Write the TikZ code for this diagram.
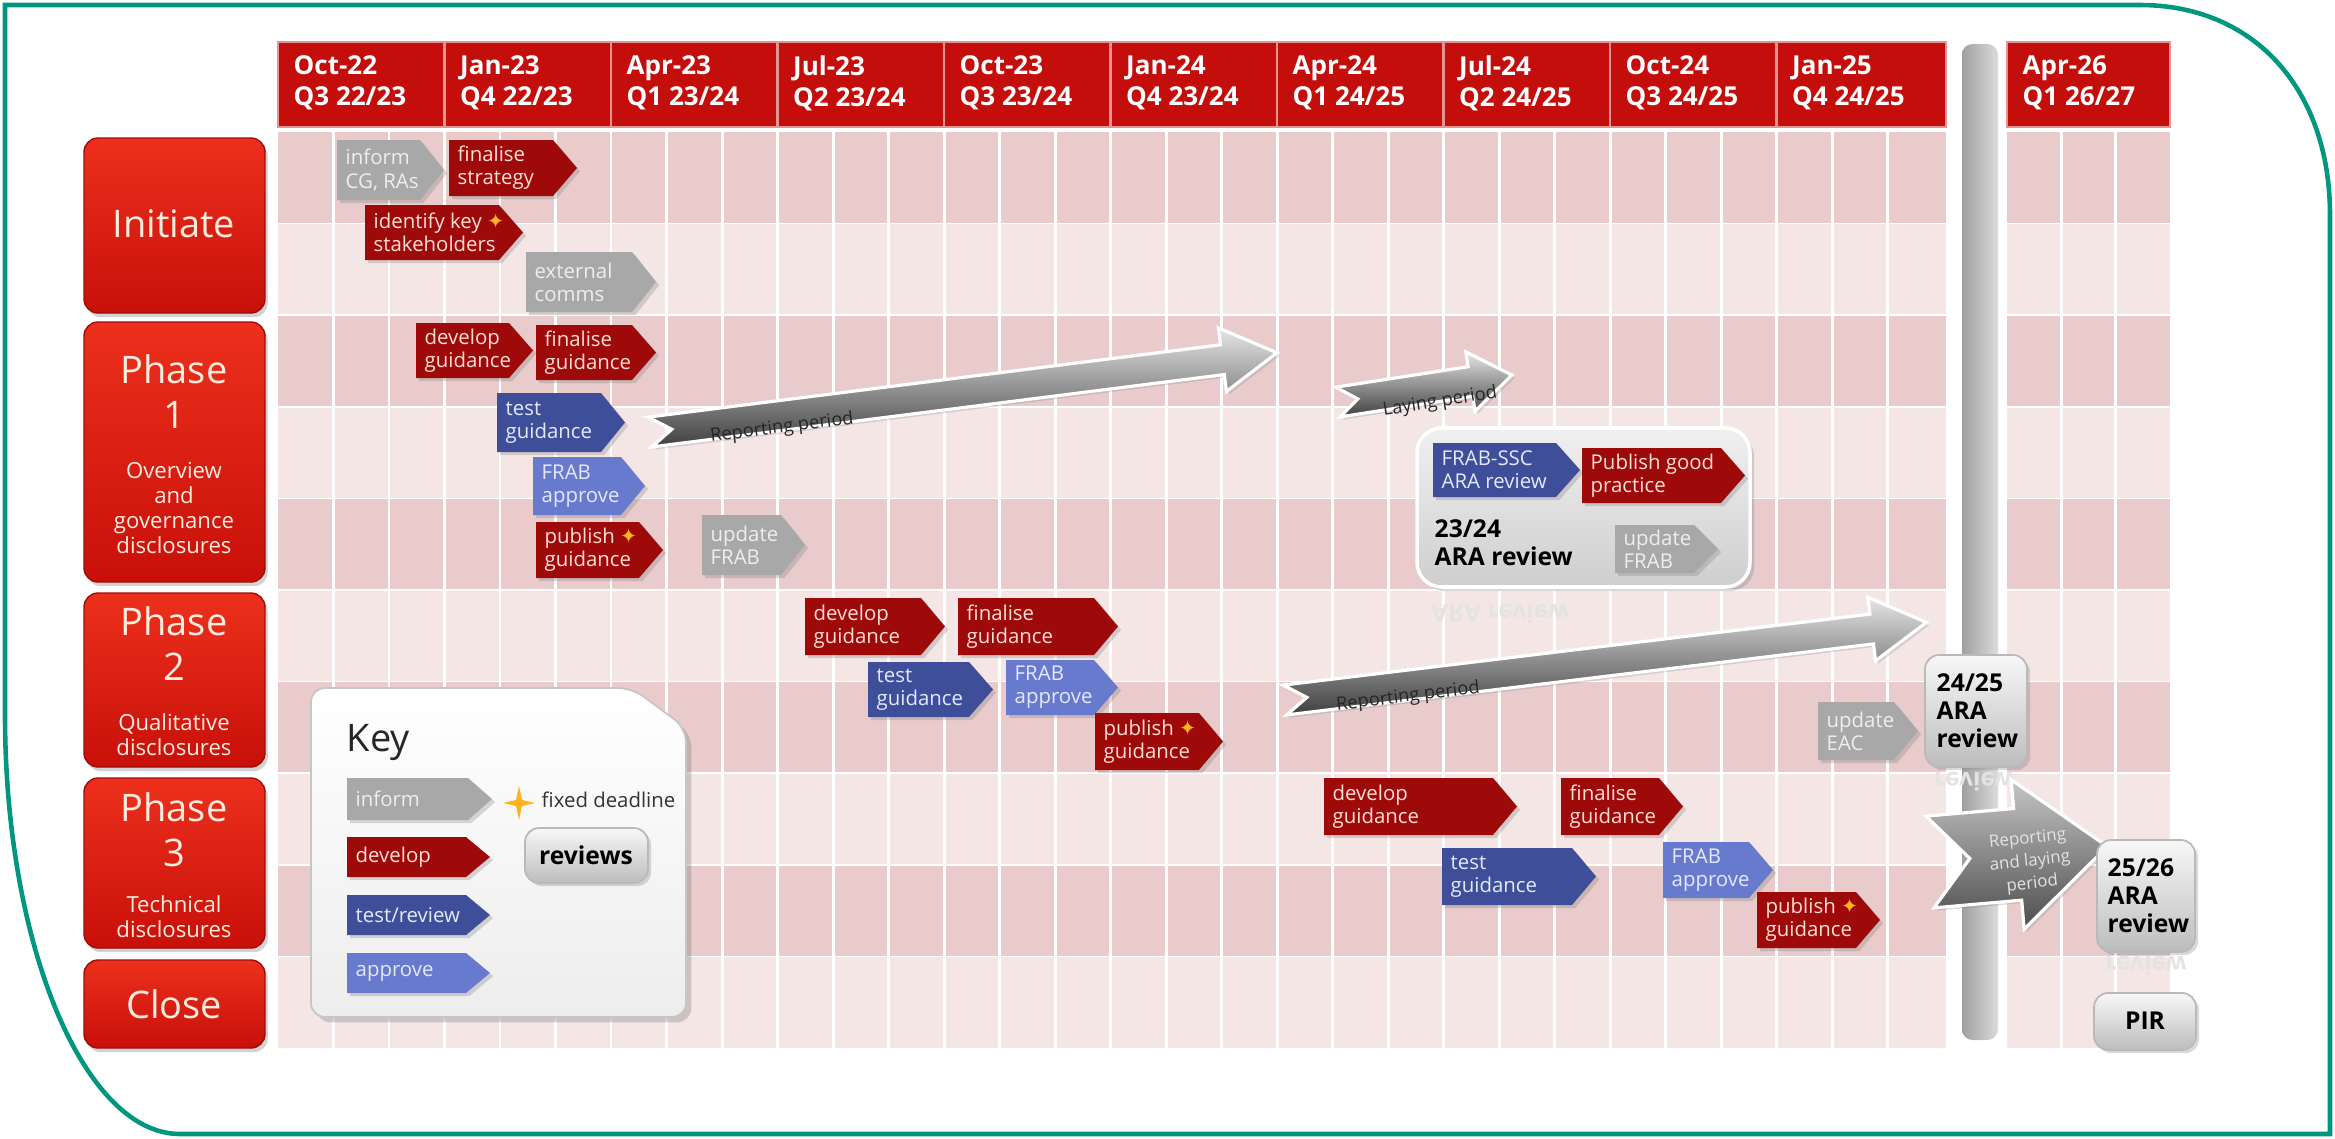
\documentclass[tikz,border=0pt]{standalone}
\usepackage{fontspec}
\setmainfont{Open Sans}
\newfontfamily\dvsans{DejaVu Sans}
\usetikzlibrary{shadows}
\definecolor{bordc}{RGB}{0,150,128}
\definecolor{hdred}{RGB}{196,14,12}
\definecolor{rowd}{RGB}{233,203,203}
\definecolor{rowl}{RGB}{245,230,230}
\definecolor{dred}{RGB}{158,10,10}
\definecolor{tblue}{RGB}{62,78,152}
\definecolor{ablue}{RGB}{104,122,205}
\definecolor{infg}{RGB}{168,168,168}
\definecolor{phtop}{RGB}{236,48,28}
\definecolor{phbot}{RGB}{200,16,10}
\definecolor{phtxt}{RGB}{255,236,222}
\definecolor{dtxt}{RGB}{255,222,212}
\definecolor{btxt}{RGB}{228,232,255}
\definecolor{gtxt}{RGB}{238,238,238}
\definecolor{starc}{RGB}{255,180,30}
\tikzset{
 shad/.style={drop shadow={shadow xshift=0.9pt,shadow yshift=-0.9pt,opacity=0.3}},
 shdev/.style={fill=dred,shad},
 shtst/.style={fill=tblue,shad},
 shapr/.style={fill=ablue,shad},
 shinf/.style={fill=infg,shad},
 txdev/.style={text=dtxt},
 txtst/.style={text=btxt},
 txapr/.style={text=btxt},
 txinf/.style={text=gtxt},
 itxt/.style={anchor=west,align=left,inner sep=0pt,font=\fontsize{5.8pt}{6.6pt}\selectfont},
 hdcell/.style={fill=hdred,draw=white!55!hdred,line width=0.6pt},
 hdtxt/.style={anchor=west,align=left,inner sep=0pt,text=white,font=\fontsize{7.4pt}{8.8pt}\selectfont\bfseries},
 gridv/.style={draw=white,line width=0.85pt},
 gridh/.style={draw=white,line width=0.45pt},
 phfill/.style={top color=phtop,bottom color=phbot,rounded corners=4pt,draw=phbot!80!black,line width=0.4pt,
   drop shadow={shadow xshift=0.8pt,shadow yshift=-1.2pt,opacity=0.35}},
 phbig/.style={align=center,inner sep=0pt,text=phtxt,font=\fontsize{10.8pt}{12.8pt}\selectfont},
 phsmall/.style={align=center,inner sep=0pt,text=phtxt,font=\fontsize{6.3pt}{7.1pt}\selectfont},
 revfill/.style={rounded corners=4pt,top color=gray!6,bottom color=gray!52,draw=gray!55,line width=0.5pt,shad},
 bigrev/.style={rounded corners=7pt,top color=gray!12,bottom color=gray!38,draw=white,line width=1pt,
   drop shadow={shadow xshift=1.2pt,shadow yshift=-1.2pt,opacity=0.3}},
 revtxt/.style={anchor=west,align=left,inner sep=0pt,text=black,font=\fontsize{7pt}{8pt}\selectfont\bfseries},
 keyfill/.style={rounded corners=4pt,top color=white,bottom color=gray!14,draw=gray!45,line width=0.5pt,
   drop shadow={shadow xshift=1.5pt,shadow yshift=-1.5pt,opacity=0.35}},
 arrfill/.style={top color=gray!20,middle color=gray!55,bottom color=black!75,draw=white,line width=0.9pt,
   drop shadow={shadow xshift=0.8pt,shadow yshift=-0.8pt,opacity=0.25}},
 bigarr/.style={top color=gray!45,middle color=gray!60,bottom color=black!70,draw=white,line width=0.9pt,
   drop shadow={shadow xshift=0.8pt,shadow yshift=-0.8pt,opacity=0.25}},
 arrlbl/.style={inner sep=0pt,text=black!85,font=\fontsize{5.2pt}{5.6pt}\selectfont},
 refl/.style={yscale=-1,inner sep=0pt,text=gray!22,font=\fontsize{7pt}{8pt}\selectfont\bfseries},
}
\newcommand\dstar{{\dvsans\color{starc}✦}}
% name, kind, x1, y1, x2(tip), y2, text
\newcommand\chev[7]{%
 \path[sh#2] (#3,#4) -- ({#5-24},#4) -- (#5,{(#4+#6)/2}) -- ({#5-24},#6) -- (#3,#6) -- cycle;
 \node[itxt,tx#2] (#1) at ({#3+8},{(#4+#6)/2}) {#7};}
% name, x, w, line1, line2
\newcommand\hcell[5]{%
 \path[hdcell] (#2,42) rectangle ({#2+#3},127);
 \node[hdtxt] (#1) at ({#2+15},83) {#4\\#5};}
% notch, style, tail x, tail y, angle, length, shaft half, head half, head length
\newcommand\parrow[9]{%
 \begin{scope}[shift={(#3,#4)},rotate=#5]
 \path[#2] (0,-#7) -- ({#6-#9},-#7) -- ({#6-#9},-#8) -- (#6,0) -- ({#6-#9},#8) -- ({#6-#9},#7) -- (0,#7) -- (#1,0) -- cycle;
 \end{scope}}
\begin{document}
\begin{tikzpicture}[x=0.01cm,y=-0.01cm]
\useasboundingbox (0,0) rectangle (2335,1139);
% outer border
\draw[bordc,line width=1.3pt] (5,5) -- (2140,5) .. controls (2254,5) and (2330,89) .. (2330,215)
  -- (2330,1134) -- (180,1134) .. controls (84,1134) and (5,945) .. (5,715) -- cycle;
% grid rows
\foreach \r in {0,2,4,6,8} {
 \fill[rowd] (278,{132+91.6*\r}) rectangle (1946,{132+91.6*(\r+1)});
 \fill[rowd] (2007,{132+91.6*\r}) rectangle (2170,{132+91.6*(\r+1)});}
\foreach \r in {1,3,5,7,9} {
 \fill[rowl] (278,{132+91.6*\r}) rectangle (1946,{132+91.6*(\r+1)});
 \fill[rowl] (2007,{132+91.6*\r}) rectangle (2170,{132+91.6*(\r+1)});}
\foreach \k in {1,...,29} \draw[gridv] ({278+55.5*\k},132) -- ({278+55.5*\k},1048);
\foreach \k in {1,2} \draw[gridv] ({2007+54.33*\k},132) -- ({2007+54.33*\k},1048);
\foreach \r in {1,...,9} {
 \draw[gridh] (278,{132+91.6*\r}) -- (1946,{132+91.6*\r});
 \draw[gridh] (2007,{132+91.6*\r}) -- (2170,{132+91.6*\r});}
% header
\hcell{h1}{278}{166.5}{Oct-22}{Q3 22/23}
\hcell{h2}{444.5}{166.5}{Jan-23}{Q4 22/23}
\hcell{h3}{611}{166.5}{Apr-23}{Q1 23/24}
\hcell{h4}{777.5}{166.5}{Jul-23}{Q2 23/24}
\hcell{h5}{944}{166.5}{Oct-23}{Q3 23/24}
\hcell{h6}{1110.5}{166.5}{Jan-24}{Q4 23/24}
\hcell{h7}{1277}{166.5}{Apr-24}{Q1 24/25}
\hcell{h8}{1443.5}{166.5}{Jul-24}{Q2 24/25}
\hcell{h9}{1610}{166.5}{Oct-24}{Q3 24/25}
\hcell{h10}{1776.5}{169.5}{Jan-25}{Q4 24/25}
\hcell{h11}{2007}{163}{Apr-26}{Q1 26/27}
% grey time-break bar
\path[left color=gray!75,right color=gray!28,rounded corners=3pt] (1962,44) rectangle (1998,1040);
% phase boxes
\path[phfill] (84,138) rectangle (265,313);
\path[phfill] (84,322) rectangle (265,582);
\path[phfill] (84,593) rectangle (265,767);
\path[phfill] (84,778) rectangle (265,948);
\path[phfill] (84,960) rectangle (265,1048);
\node[phbig] (pinit) at (174,224) {Initiate};
\node[phbig] (p1a) at (174,392) {Phase\\1};
\node[phsmall] (p1b) at (174,508) {Overview\\and\\governance\\disclosures};
\node[phbig] (p2a) at (174,644) {Phase\\2};
\node[phsmall] (p2b) at (174,735) {Qualitative\\disclosures};
\node[phbig] (p3a) at (174,830) {Phase\\3};
\node[phsmall] (p3b) at (174,917) {Technical\\disclosures};
\node[phbig] (pcl) at (174,1004) {Close};
% 3D period arrows
\parrow{22}{arrfill}{650}{432}{7.2}{632}{15}{32}{55}
\node[arrlbl,rotate=7.2] (lbl1) at (782,428) {Reporting period};
\parrow{20}{arrfill}{1338}{402}{8.8}{176}{15}{30}{42}
\node[arrlbl,rotate=8.8] (lbl2) at (1440,402) {Laying period};
\parrow{22}{arrfill}{1285}{700}{6.9}{646}{15}{32}{55}
\node[arrlbl,rotate=6.9] (lbl3) at (1408,697) {Reporting period};
% Initiate
\chev{c1}{inf}{337}{140}{444}{200}{inform\\CG, RAs}
\chev{c2}{dev}{449}{140}{577}{196}{finalise\\strategy}
\chev{c3}{dev}{365}{205}{523}{260}{identify key \dstar\\stakeholders}
\chev{c4}{inf}{526}{252}{656}{312}{external\\comms}
% Phase 1
\chev{c5}{dev}{416}{323}{533}{378}{develop\\guidance}
\chev{c6}{dev}{536}{325}{656}{380}{finalise\\guidance}
\chev{c7}{tst}{497}{393}{625}{452}{test\\guidance}
\chev{c8}{apr}{533}{457}{645}{515}{FRAB\\approve}
\chev{c9}{dev}{536}{522}{663}{578}{publish \dstar\\guidance}
\chev{c10}{inf}{702}{515}{805}{575}{update\\FRAB}
% 23/24 review
\path[bigrev] (1417,428) rectangle (1750,587);
\chev{c11}{tst}{1433}{443}{1580}{497}{FRAB-SSC\\ARA review}
\chev{c12}{dev}{1582}{448}{1745}{503}{Publish good\\practice}
\chev{c13}{inf}{1615}{525}{1718}{573}{update\\FRAB}
\node[revtxt] (r2324) at (1434,543) {23/24\\ARA review};
\node[refl] (rf1) at (1500,614) {ARA review};
% Phase 2
\chev{c14}{dev}{805}{598}{945}{655}{develop\\guidance}
\chev{c15}{dev}{958}{598}{1118}{655}{finalise\\guidance}
\chev{c16}{tst}{868}{662}{993}{717}{test\\guidance}
\chev{c17}{apr}{1006}{660}{1118}{715}{FRAB\\approve}
\chev{c18}{dev}{1095}{713}{1223}{770}{publish \dstar\\guidance}
\chev{c19}{inf}{1818}{702}{1918}{760}{update\\EAC}
\path[revfill] (1925,655) rectangle (2027,767);
\node[revtxt] (r2425) at (1936,711) {24/25\\ARA\\review};
\node[refl] (rf2) at (1975,782) {review};
% Phase 3
\chev{c20}{dev}{1324}{778}{1517}{835}{develop\\guidance}
\chev{c21}{dev}{1561}{778}{1683}{835}{finalise\\guidance}
\chev{c22}{tst}{1442}{848}{1596}{905}{test\\guidance}
\chev{c23}{apr}{1663}{842}{1773}{898}{FRAB\\approve}
\chev{c24}{dev}{1757}{892}{1880}{948}{publish \dstar\\guidance}
% big reporting and laying arrow
\parrow{40}{bigarr}{1930}{862}{5}{178}{46}{75}{90}
\node[inner sep=0pt,align=center,text=gray!22,rotate=6,font=\fontsize{4.8pt}{6.4pt}\selectfont] (lbl4) at (2030,862) {Reporting\\and laying\\period};
\path[revfill] (2097,840) rectangle (2195,952);
\node[revtxt] (r2526) at (2107,896) {25/26\\ARA\\review};
\node[refl] (rf3) at (2146,966) {review};
\path[revfill] (2094,993) rectangle (2196,1050);
\node[revtxt,anchor=center] (pir) at (2145,1021) {PIR};
% Key
\path[keyfill] (311,1017) -- (311,688) -- (632,688) -- (686,728) -- (686,1017) -- cycle;
\node[anchor=west,inner sep=0pt,text=black!85,font=\fontsize{10.8pt}{12pt}\selectfont] (key) at (346,742) {Key};
\chev{k1}{inf}{347}{778}{492}{820}{inform}
\chev{k2}{dev}{347}{837}{490}{877}{develop}
\chev{k3}{tst}{347}{895}{490}{935}{test/review}
\chev{k4}{apr}{347}{953}{490}{993}{approve}
\fill[starc] (503,803) -- (516,800) -- (519,786) -- (522,800) -- (535,803) -- (522,806) -- (519,820) -- (516,806) -- cycle;
\node[anchor=west,inner sep=0pt,text=black!80,font=\fontsize{5.8pt}{6.6pt}\selectfont] (fd) at (541,800) {fixed deadline};
\path[revfill] (525,828) rectangle (648,883);
\node[revtxt,anchor=center] (rv) at (586,855) {reviews};
\end{tikzpicture}
\end{document}
